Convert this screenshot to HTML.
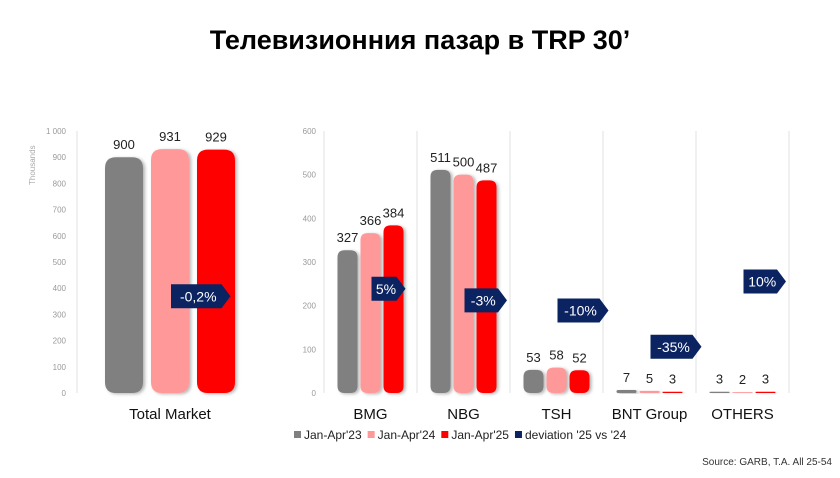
<!DOCTYPE html>
<html><head><meta charset="utf-8"><style>
body{margin:0;background:#fff;font-family:"Liberation Sans",sans-serif}
svg text{font-family:"Liberation Sans",sans-serif}
</style></head><body>
<svg id="c" width="840" height="473" viewBox="0 0 840 473">
<defs><filter id="sh" x="-30%" y="-10%" width="160%" height="130%"><feDropShadow dx="2" dy="1" stdDeviation="1.5" flood-color="#000" flood-opacity="0.3"/></filter></defs>
<text x="420" y="49" text-anchor="middle" font-size="27" font-weight="bold" fill="#000">Телевизионния пазар в TRP 30’</text>
<g id="g"></g>
<text x="832" y="465" text-anchor="end" font-size="10" fill="#333">Source: GARB, T.A. All 25-54</text>
</svg>
<script>
const totalCategories=["Total Market"];
const totalY23=[900];const totalY24=[931];const totalY25=[929];const totalDev=[-0.2];
const totalTicks=[0,100,200,300,400,500,600,700,800,900,1000];
const categories=["BMG","NBG","TSH","BNT Group","OTHERS"];
const y23=[327,511,53,7,3];const y24=[366,500,58,5,2];const y25=[384,487,52,3,3];
const deviation=[5,-3,-10,-35,10];
const ticks=[0,100,200,300,400,500,600];
const devLabels=["5%","-3%","-10%","-35%","10%"];const totalDevLabels=["-0,2%"];
const colors=["#808080","#ff9999","#ff0000"];
const NS="http://www.w3.org/2000/svg";const G=document.getElementById('g');
function mk(t,a,txt){const e=document.createElementNS(NS,t);for(const k in a)e.setAttribute(k,a[k]);if(txt!=null)e.textContent=txt;G.appendChild(e);return e;}
const base=393,top0=131;
const yL=v=>base-(v/1000)*(base-top0);
const yR=v=>base-(v/600)*(base-top0);
const yD=v=>296-1.45*v;
function bar(x,w,y,c,r){const h=base-y;r=Math.min(r,h/2);
 const p=`M${x} ${base-r}L${x} ${y+r}Q${x} ${y} ${x+r} ${y}L${x+w-r} ${y}Q${x+w} ${y} ${x+w} ${y+r}L${x+w} ${base-r}Q${x+w} ${base} ${x+w-r} ${base}L${x+r} ${base}Q${x} ${base} ${x} ${base-r}Z`;
 return mk('path',{d:p,fill:c,filter:'url(#sh)'});}
function devBox(x,y,label){const w=label.length*8.5+8;
 const e=mk('path',{d:`M${x} ${y-12}L${x+w} ${y-12}L${x+w+9} ${y}L${x+w} ${y+12}L${x} ${y+12}Z`,fill:'#0b2360'});
 
 
 const t=mk('text',{x:x+w/2+2,y:y+5,'text-anchor':'middle','font-size':14,fill:'#fff'},label);
 
 }
// left axis
totalTicks.forEach(v=>{const t=mk('text',{x:66,y:yL(v)+3,'text-anchor':'end','font-size':8,fill:'#999'},v===1000?'1 000':String(v));
 
 });
mk('line',{x1:77,y1:131,x2:77,y2:393,stroke:'#e0e0e0'});
const tt=mk('text',{x:0,y:0,transform:'translate(35,185) rotate(-90)','font-size':8,fill:'#aaa'},'Thousands');


totalCategories.forEach((c,i)=>{const cx=170;
 [totalY23[i],totalY24[i],totalY25[i]].forEach((v,j)=>{const x=cx-65+j*46;const b=bar(x,38,yL(v),colors[j],11);
  
  
  const t=mk('text',{x:x+19,y:yL(v)-8,'text-anchor':'middle','font-size':13,fill:'#222'},String(v));
  
  });
 const l=mk('text',{x:cx,y:419,'text-anchor':'middle','font-size':15,fill:'#111'},c);
 
 
 devBox(cx+1,yD(totalDev[i]),totalDevLabels[i]);});
// right axis
ticks.forEach(v=>{const t=mk('text',{x:316,y:yR(v)+3,'text-anchor':'end','font-size':8,fill:'#999'},String(v));
 
 });
const gw=93,x0=324;
for(let i=0;i<=categories.length;i++)mk('line',{x1:x0+i*gw,y1:131,x2:x0+i*gw,y2:393,stroke:'#e0e0e0'});
categories.forEach((c,i)=>{const cx=x0+gw*i+gw/2;
 [y23[i],y24[i],y25[i]].forEach((v,j)=>{const x=cx-33+j*23;const b=bar(x,20,yR(v),colors[j],7);
  
  
  const t=mk('text',{x:x+10,y:yR(v)-8,'text-anchor':'middle','font-size':13,fill:'#222'},String(v));
  
  });
 const l=mk('text',{x:cx,y:419,'text-anchor':'middle','font-size':15,fill:'#111'},c);
 
 
 devBox(cx+1,yD(deviation[i]),devLabels[i]);});
// legend
const leg=[["Jan-Apr'23",colors[0]],["Jan-Apr'24",colors[1]],["Jan-Apr'25",colors[2]],["deviation '25 vs '24","#0b2360"]];
let lx=294;leg.forEach(([t,c])=>{const r=mk('rect',{x:lx,y:431,width:7,height:7,fill:c});
 
 
 const tx=mk('text',{x:lx+10,y:439,'font-size':12,fill:'#222'},t);
 
 
 lx+=tx.getComputedTextLength()+16;});
</script>
</body></html>
